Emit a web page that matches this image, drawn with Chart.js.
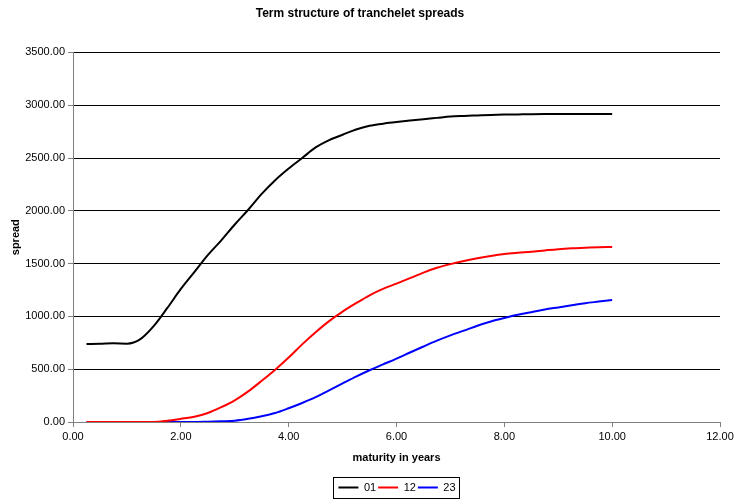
<!DOCTYPE html>
<html>
<head>
<meta charset="utf-8">
<script src="https://cdn.jsdelivr.net/npm/chart.js@4.4.1/dist/chart.umd.min.js"></script>
<style>
  html, body { margin: 0; padding: 0; background: #fff; }
  #wrap { width: 735px; height: 502px; }
</style>
</head>
<body>
<div id="wrap"><canvas id="myChart" width="735" height="502"></canvas></div>
<script>
// maturity (years)
const maturity = [0.25, 0.5, 0.75, 1, 1.25, 1.5, 1.75, 2, 2.25, 2.5,
  2.75, 3, 3.25, 3.5, 3.75, 4, 4.25, 4.5, 4.75, 5,
  5.25, 5.5, 5.75, 6, 6.25, 6.5, 6.75, 7, 7.25, 7.5,
  7.75, 8, 8.25, 8.5, 8.75, 9, 9.25, 9.5, 9.75, 10];

// tranchelet spreads
const s01 = [738, 740, 745, 742, 785, 910, 1080, 1260, 1420, 1580,
  1720, 1870, 2010, 2160, 2290, 2400, 2500, 2600, 2670, 2720,
  2770, 2805, 2825, 2840, 2855, 2868, 2880, 2892, 2898, 2903,
  2908, 2911, 2913, 2915, 2916, 2916, 2917, 2917, 2917, 2917];
const s12 = [0, 0, 0, 0, 0, 0, 12, 30, 50, 85,
  140, 205, 290, 390, 495, 610, 735, 850, 955, 1045,
  1125, 1200, 1260, 1310, 1362, 1415, 1460, 1495, 1525, 1550,
  1572, 1590, 1602, 1612, 1625, 1637, 1645, 1650, 1655, 1658];
const s23 = [0, 0, 0, 0, 0, 0, 0, 0, 0, 3,
  7, 12, 30, 55, 85, 130, 180, 235, 300, 365,
  430, 490, 545, 600, 658, 715, 770, 820, 865, 912,
  952, 985, 1015, 1040, 1065, 1085, 1105, 1125, 1140, 1155];

const seriesNames = ['01', '12', '23'];
const seriesColors = ['#000000', '#ff0000', '#0000ff'];

const FONT = 'Arial, "Liberation Sans", sans-serif';

function toPts(vals) {
  return vals.map((v, i) => ({ x: maturity[i], y: v }));
}

// legende unter die plotflaeche schieben + rahmen (wie excel)
const legendBox = {
  id: 'legendBox',
  afterUpdate(chart) {
    const lg = chart.legend;
    const boxes = lg.legendHitBoxes;
    if (!boxes || !boxes.length) return;
    let l = Infinity, r = -Infinity;
    boxes.forEach(h => { l = Math.min(l, h.left); r = Math.max(r, h.left + h.width); });
    const area = chart.chartArea;
    const dx = Math.round((area.left + area.right) / 2 - (l + r) / 2);
    const dy = 1;
    lg.left += dx; lg.right += dx;
    lg.top += dy; lg.bottom += dy;
    boxes.forEach(h => { h.left += dx; h.top += dy; });
  },
  afterDraw(chart) {
    const boxes = chart.legend.legendHitBoxes;
    if (!boxes || !boxes.length) return;
    let l = Infinity, r = -Infinity, t = Infinity, b = -Infinity;
    boxes.forEach(h => {
      l = Math.min(l, h.left); r = Math.max(r, h.left + h.width);
      t = Math.min(t, h.top); b = Math.max(b, h.top + h.height);
    });
    const ctx = chart.ctx;
    ctx.save();
    ctx.strokeStyle = '#000';
    ctx.lineWidth = 1;
    ctx.strokeRect(Math.round(l - 5) + 0.5, Math.round(t - 5) + 0.5,
      Math.round(r - l + 9), Math.round(b - t + 10));
    ctx.restore();
  }
};

const ctx = document.getElementById('myChart').getContext('2d');
const myChart = new Chart(ctx, {
  type: 'line',
  data: {
    datasets: [s01, s12, s23].map((vals, i) => ({
      label: seriesNames[i],
      data: toPts(vals),
      borderColor: seriesColors[i],
      backgroundColor: seriesColors[i],
      borderWidth: 2,
      pointRadius: 0,
      cubicInterpolationMode: 'monotone',
      fill: false
    }))
  },
  options: {
    responsive: false,
    animation: false,
    layout: { padding: { left: 0, right: 15, top: 0, bottom: 0 } },
    plugins: {
      title: {
        display: true,
        text: 'Term structure of tranchelet spreads',
        color: '#000',
        font: { family: FONT, size: 12, weight: 'bold' },
        padding: { top: 6, bottom: 32 }
      },
      legend: {
        position: 'bottom',
        labels: {
          color: '#000',
          font: { family: FONT, size: 11 },
          usePointStyle: true,
          pointStyle: 'line',
          pointStyleWidth: 20,
          padding: 2
        }
      },
      tooltip: { enabled: false }
    },
    scales: {
      x: {
        type: 'linear',
        min: 0,
        max: 12,
        ticks: {
          stepSize: 2,
          color: '#000',
          font: { family: FONT, size: 11 },
          maxRotation: 0,
          padding: 3,
          callback: v => v.toFixed(2)
        },
        grid: { drawOnChartArea: false, drawTicks: true, tickLength: 5, color: '#808080' },
        border: { color: '#808080' },
        title: {
          display: true,
          text: 'maturity in years',
          color: '#000',
          font: { family: FONT, size: 11, weight: 'bold' },
          padding: { top: 0, bottom: 14 }
        },
        afterFit: s => { s.height = 57; s.paddingRight = 0; }
      },
      y: {
        min: 0,
        max: 3500,
        ticks: {
          stepSize: 500,
          color: '#000',
          font: { family: FONT, size: 11 },
          padding: 3,
          callback: v => v.toFixed(2)
        },
        grid: { color: '#000', tickColor: '#808080', tickLength: 5 },
        border: { color: '#808080' },
        title: {
          display: true,
          text: 'spread',
          color: '#000',
          font: { family: FONT, size: 11, weight: 'bold' },
          padding: { top: 9, bottom: 0 }
        },
        afterFit: s => { s.width = 73; }
      }
    }
  },
  plugins: [legendBox]
});
</script>
</body>
</html>
